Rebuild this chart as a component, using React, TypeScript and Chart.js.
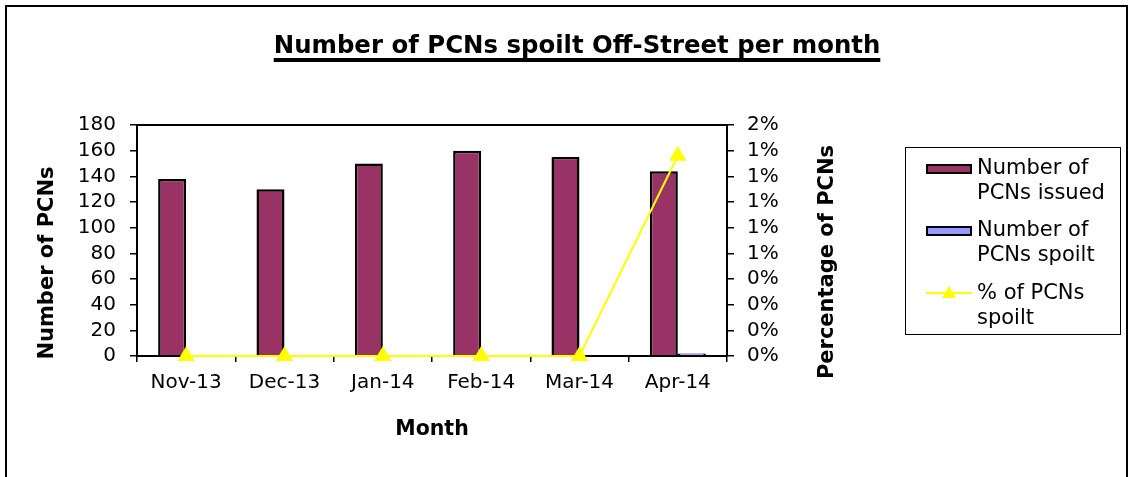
import React, { useEffect, useRef } from "react";
import { Chart, registerables } from "chart.js";

Chart.register(...registerables);

const months = ["Nov-13", "Dec-13", "Jan-14", "Feb-14", "Mar-14", "Apr-14"];
const issued = [138, 130, 150, 160, 155, 144];
const spoilt = [0, 0, 0, 0, 0, 2];
const pctSpoilt = [0, 0, 0, 0, 0, 0.013];
const leftMax = 180;
const leftStep = 20;
const rightMax = 0.015;
const rightTickLabels = ["0%", "0%", "0%", "0%", "1%", "1%", "1%", "1%", "1%", "2%"];

const FONT = '"DejaVu Sans", "Liberation Sans", Arial, sans-serif';

const axisTitles = {
  id: "axisTitles",
  afterDraw(chart: any) {
    const ctx = chart.ctx;
    const ca = chart.chartArea;
    ctx.save();
    ctx.strokeStyle = "#000";
    ctx.lineWidth = 2;
    ctx.beginPath();
    ctx.moveTo(ca.left - 1, ca.top);
    ctx.lineTo(ca.right + 1, ca.top);
    ctx.stroke();
    ctx.fillStyle = "#000";
    ctx.font = "bold 21px " + FONT;
    ctx.textAlign = "center";
    ctx.textBaseline = "middle";
    ctx.save();
    ctx.translate(48, 263);
    ctx.rotate(-Math.PI / 2);
    ctx.fillText("Number of PCNs", 0, 0);
    ctx.restore();
    ctx.save();
    ctx.translate(828, 262);
    ctx.rotate(-Math.PI / 2);
    ctx.fillText("Percentage of PCNs", 0, 0);
    ctx.restore();
    ctx.restore();
  },
};

export default function App() {
  const ref = useRef<HTMLCanvasElement>(null);

  useEffect(() => {
    if (!ref.current) return;
    const chart = new Chart(ref.current, {
      type: "bar",
      data: {
        labels: months,
        datasets: [
          {
            type: "line",
            label: "% of PCNs spoilt",
            data: pctSpoilt,
            yAxisID: "y1",
            borderColor: "#FFFF00",
            backgroundColor: "#FFFF00",
            pointBackgroundColor: "#FFFF00",
            pointBorderColor: "#FFFF00",
            borderWidth: 2,
            pointStyle: "triangle",
            pointRadius: 8,
            clip: false,
            order: 0,
          } as any,
          {
            type: "bar",
            label: "Number of PCNs issued",
            data: issued,
            yAxisID: "y",
            backgroundColor: "#993366",
            borderColor: "#000000",
            borderWidth: 2.5,
            categoryPercentage: 0.57,
            barPercentage: 1.0,
            order: 1,
          },
          {
            type: "bar",
            label: "Number of PCNs spoilt",
            data: spoilt,
            yAxisID: "y",
            backgroundColor: "#9999FF",
            borderColor: "#000000",
            borderWidth: 2.5,
            categoryPercentage: 0.57,
            barPercentage: 1.0,
            order: 2,
          },
        ],
      },
      options: {
        responsive: false,
        animation: false,
        layout: { padding: { top: 125, left: 0, right: 0, bottom: 0 } },
        plugins: {
          legend: { display: false },
          title: { display: false },
          tooltip: { enabled: false },
        },
        scales: {
          x: {
            type: "category",
            offset: true,
            grid: {
              offset: true,
              drawOnChartArea: false,
              drawTicks: true,
              tickLength: 6,
              color: "#000",
              lineWidth: 1.5,
            },
            border: { display: true, color: "#000", width: 2 },
            ticks: {
              color: "#000",
              font: { family: FONT, size: 20 },
              padding: 9,
              maxRotation: 0,
              autoSkip: false,
            },
            title: {
              display: true,
              text: "Month",
              color: "#000",
              font: { family: FONT, size: 20.5, weight: "bold" },
              padding: { top: 0, bottom: 35 },
            },
            afterFit: (scale: any) => {
              scale.height = 121;
            },
          },
          y: {
            position: "left",
            min: 0,
            max: leftMax,
            ticks: {
              stepSize: leftStep,
              color: "#000",
              font: { family: FONT, size: 20 },
              padding: 14,
              autoSkip: false,
            },
            grid: {
              drawOnChartArea: false,
              drawTicks: true,
              tickLength: 7,
              color: "#000",
              lineWidth: 1.5,
            },
            border: { display: true, color: "#000", width: 2 },
            afterFit: (scale: any) => {
              scale.width = 137;
            },
          },
          y1: {
            position: "right",
            min: 0,
            max: rightMax,
            afterBuildTicks: (scale: any) => {
              scale.ticks = rightTickLabels.map((_, i) => ({
                value: (i * rightMax) / (rightTickLabels.length - 1),
              }));
            },
            ticks: {
              color: "#000",
              font: { family: FONT, size: 20 },
              padding: 13,
              autoSkip: false,
              callback: (_v: any, i: number) => rightTickLabels[i],
            },
            grid: {
              drawOnChartArea: false,
              drawTicks: true,
              tickLength: 7,
              color: "#000",
              lineWidth: 1.5,
            },
            border: { display: true, color: "#000", width: 2 },
            afterFit: (scale: any) => {
              scale.width = 1132 - 727;
            },
          },
        },
      },
      plugins: [axisTitles],
    });
    return () => chart.destroy();
  }, []);

  const textStyle: React.CSSProperties = {
    position: "absolute",
    left: 977,
    fontFamily: FONT,
    fontSize: 21,
    lineHeight: "25px",
    color: "#000",
    whiteSpace: "nowrap",
  };
  const swatch = (top: number, color: string): React.CSSProperties => ({
    position: "absolute",
    left: 926,
    top,
    width: 42,
    height: 6,
    background: color,
    border: "2px solid #000",
  });

  return (
    <div style={{ position: "absolute", left: 0, top: 0, width: 1132, height: 477, overflow: "hidden", background: "#fff" }}>
      <div
        style={{
          position: "absolute",
          left: 5,
          top: 5,
          width: 1123,
          height: 520,
          border: "2px solid #000",
          boxSizing: "border-box",
        }}
      />
      <canvas ref={ref} width={1132} height={477} style={{ position: "absolute", left: 0, top: 0, width: 1132, height: 477 }} />
      <div
        style={{
          position: "absolute",
          left: 577,
          top: 33,
          transform: "translateX(-50%)",
          fontFamily: FONT,
          fontWeight: "bold",
          fontSize: 24.4,
          lineHeight: "24px",
          whiteSpace: "nowrap",
          textDecoration: "underline",
          textDecorationThickness: "3.5px",
          textUnderlineOffset: "5px",
          textDecorationSkipInk: "none",
          color: "#000",
        } as React.CSSProperties}
      >
        Number of PCNs spoilt Off-Street per month
      </div>
      <div
        style={{
          position: "absolute",
          left: 905,
          top: 147,
          width: 216,
          height: 188,
          border: "1px solid #000",
          boxSizing: "border-box",
        }}
      />
      <div style={swatch(164, "#993366")} />
      <div style={{ ...textStyle, top: 155 }}>
        Number of
        <br />
        PCNs issued
      </div>
      <div style={swatch(226, "#9999FF")} />
      <div style={{ ...textStyle, top: 217 }}>
        Number of
        <br />
        PCNs spoilt
      </div>
      <svg style={{ position: "absolute", left: 924, top: 284 }} width={50} height={18}>
        <line x1={2} y1={9} x2={48} y2={9} stroke="#FFFF00" strokeWidth={2} />
        <polygon points="25,2 32,14 18,14" fill="#FFFF00" />
      </svg>
      <div style={{ ...textStyle, top: 280 }}>
        % of PCNs
        <br />
        spoilt
      </div>
    </div>
  );
}
